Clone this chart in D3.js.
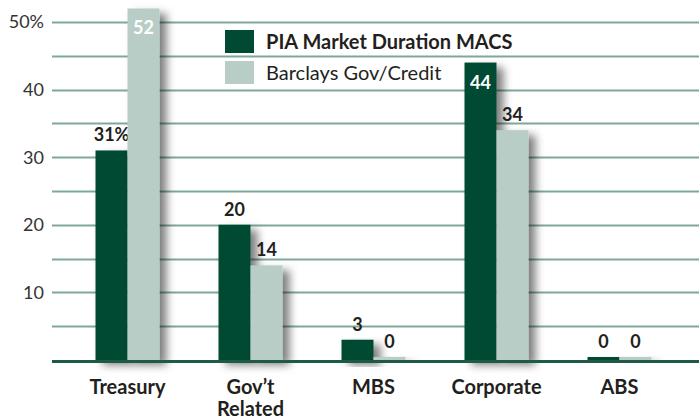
<!DOCTYPE html>
<html>
<head>
<meta charset="utf-8">
<script src="https://cdn.jsdelivr.net/npm/d3@7"></script>
<style>
  body { margin: 0; background: #fff; }
  text { font-family: Lato, "Open Sans", sans-serif; fill: #231f20; }
</style>
</head>
<body>
<div id="chart"></div>
<script>
// data
const categories = ["Treasury", "Gov\u2019t\nRelated", "MBS", "Corporate", "ABS"];
const seriesNames = ["PIA Market Duration MACS", "Barclays Gov/Credit"];
const piaValues = [31, 20, 3, 44, 0];
const barclaysValues = [52, 14, 0, 34, 0];
const gridValues = [5, 10, 15, 20, 25, 30, 35, 40, 45, 50];
const tickValues = [10, 20, 30, 40, 50];

const width = 699, height = 419;
const colors = ["#004a33", "#b7cdc5"];

const svg = d3.select("#chart").append("svg")
    .attr("width", width)
    .attr("height", height);

let defs = svg.append("defs");
let shadow = defs.append("filter")
    .attr("id", "shadow")
    .attr("x", "-30%").attr("y", "-10%")
    .attr("width", "180%").attr("height", "140%");
shadow.append("feDropShadow")
    .attr("dx", 7).attr("dy", 5)
    .attr("stdDeviation", 4.5)
    .attr("flood-color", "#000")
    .attr("flood-opacity", 0.5);

let y = d3.scaleLinear().domain([0, 50]).range([360, 22]);
let x0 = d3.scaleBand().domain(d3.range(categories.length)).range([66, 681]).padding(0);
let x1 = d3.scaleBand().domain([0, 1]).range([0, 64]);

// grid
svg.append("g").selectAll("line")
    .data(gridValues)
    .enter().append("line")
    .attr("x1", 52).attr("x2", width)
    .attr("y1", d => Math.round(y(d)) + 0.5)
    .attr("y2", d => Math.round(y(d)) + 0.5)
    .attr("stroke", "#7fa898")
    .attr("stroke-width", 2);

svg.append("g").selectAll("text")
    .data(tickValues)
    .enter().append("text")
    .attr("x", 44)
    .attr("y", d => y(d))
    .attr("dy", "0.35em")
    .attr("text-anchor", "end")
    .style("font-size", "18px")
    .style("fill", "#333")
    .text(d => d === 50 ? d + "%" : d);

let rows = categories.map((c, i) => ({i: i, values: [piaValues[i], barclaysValues[i]]}));

let groups = svg.append("g").selectAll("g")
    .data(rows)
    .enter().append("g")
    .attr("transform", d => `translate(${x0(d.i) + (x0.bandwidth() - 64) / 2},0)`);

let cells = groups.selectAll("g")
    .data(d => d.values.map((v, s) => ({v: v, s: s, i: d.i})))
    .enter().append("g");

cells.append("rect")
    .attr("x", d => x1(d.s))
    .attr("width", x1.bandwidth())
    .attr("y", d => Math.min(y(d.v), y(0) - 3))
    .attr("height", d => Math.max(y(0) - y(d.v), 3))
    .attr("fill", d => colors[d.s])
    .attr("filter", "url(#shadow)");

// value labels (inside the bar when it runs to the top)
cells.append("text")
    .attr("x", d => x1(d.s) + x1.bandwidth() / 2)
    .attr("y", d => {
        if (d.v >= 44) return y(d.v) + 26;
        return Math.min(y(d.v), y(0) - 3) - 9;
    })
    .attr("text-anchor", "middle")
    .style("font-size", "18px")
    .style("font-weight", "bold")
    .style("fill", d => d.v >= 44 ? "#fff" : "#231f20")
    .text(d => (d.i === 0 && d.s === 0) ? d.v + "%" : d.v);

// baseline
svg.append("line")
    .attr("x1", 52).attr("x2", width)
    .attr("y1", y(0) + 1.5).attr("y2", y(0) + 1.5)
    .attr("stroke", "#1f5a44")
    .attr("stroke-width", 3);

// category labels
let catText = svg.append("g").selectAll("text")
    .data(categories)
    .enter().append("text")
    .attr("x", (d, i) => x0(i) + x0.bandwidth() / 2)
    .attr("y", 394)
    .attr("text-anchor", "middle")
    .style("font-size", "20px")
    .style("font-weight", "bold");
catText.selectAll("tspan")
    .data(d => d.split("\n"))
    .enter().append("tspan")
    .attr("x", function() { return d3.select(this.parentNode).attr("x"); })
    .attr("dy", (d, i) => i === 0 ? 0 : 22)
    .text(d => d);

// legend
let legend = svg.append("g").attr("transform", "translate(225,30)");
legend.selectAll("rect")
    .data(seriesNames)
    .enter().append("rect")
    .attr("x", 0)
    .attr("y", (d, i) => i * 31)
    .attr("width", 29)
    .attr("height", 23)
    .attr("fill", (d, i) => colors[i]);
legend.selectAll("text")
    .data(seriesNames)
    .enter().append("text")
    .attr("x", 41)
    .attr("y", (d, i) => i * 31 + 12)
    .attr("dy", "0.35em")
    .style("font-size", "20px")
    .style("font-weight", (d, i) => i === 0 ? "bold" : "normal")
    .text(d => d);
</script>
</body>
</html>
